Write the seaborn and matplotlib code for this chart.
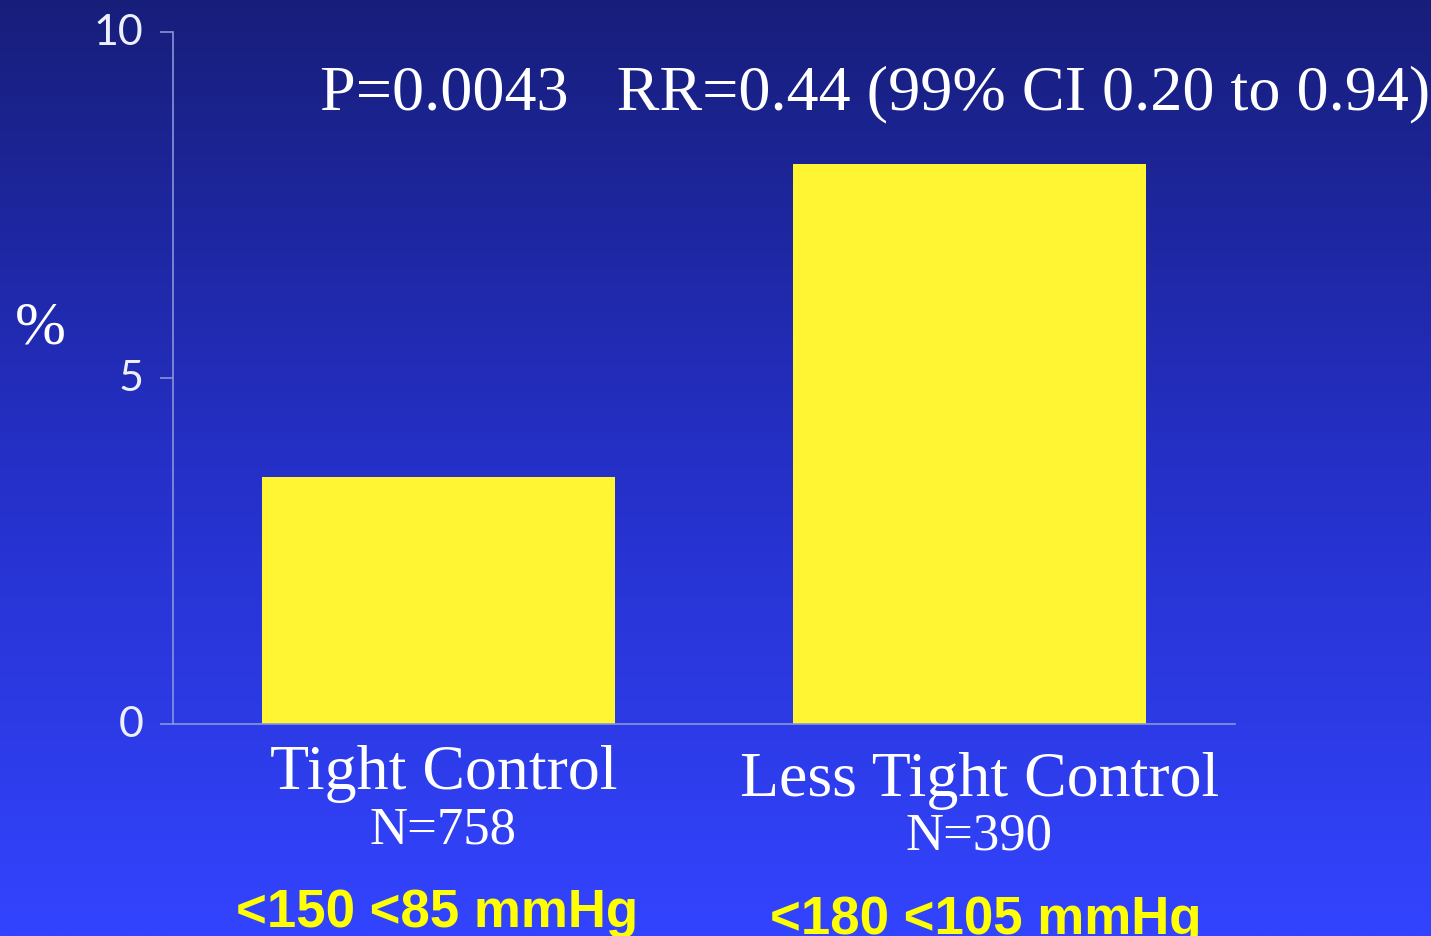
import numpy as np
import pandas as pd
import matplotlib
matplotlib.use("Agg")
import matplotlib.pyplot as plt
import matplotlib.transforms as mtransforms
from matplotlib.colors import LinearSegmentedColormap
import seaborn as sns

# ---- data ----
categories = ["Tight Control", "Less Tight Control"]
values = [3.57, 8.09]
n_labels = ["N=758", "N=390"]
bp_labels = ["<150 <85 mmHg", "<180 <105 mmHg"]
yticks = [0, 5, 10]
annotation = "P=0.0043   RR=0.44 (99% CI 0.20 to 0.94)"
ylabel = "%"

sns.set_theme(style="white")
plt.rcParams["font.family"] = ["DejaVu Sans"]

W, H = 1431, 937
fig = plt.figure(figsize=(W / 100, H / 100), dpi=100)

# gradient background
bg = fig.add_axes([0, 0, 1, 1], zorder=-10)
grad = np.linspace(0, 1, 512).reshape(-1, 1)
cmap = LinearSegmentedColormap.from_list("bg", ["#171e7a", "#2530c8", "#3344ff"])
bg.imshow(grad, aspect="auto", cmap=cmap, extent=[0, 1, 0, 1], origin="upper")
bg.axis("off")

ax = fig.add_axes([173 / W, 1 - 725 / H, (1235 - 173) / W, (725 - 33) / H])
ax.patch.set_alpha(0)

df = pd.DataFrame({"group": categories, "value": values})
sns.barplot(data=df, x="group", y="value", color="#fff533", saturation=1,
            width=0.664, linewidth=0, ax=ax)

ax.set_xlim(-0.5, 1.5)
ax.set_ylim(0, 10)
ax.set_yticks(yticks)
ax.set_yticklabels([str(t) for t in yticks], fontsize=31, color="#eef0ff",
                   family="Lato")
ax.tick_params(axis="y", left=True, length=9.5, width=1.2, color="#8a93d8", pad=12)
for lbl in ax.get_yticklabels():
    lbl.set_verticalalignment("center")
ax.tick_params(axis="x", bottom=False, labelbottom=False)
ax.set_xlabel("")
ax.set_ylabel("")
for s in ["top", "right"]:
    ax.spines[s].set_visible(False)
for s in ["left", "bottom"]:
    ax.spines[s].set_color("#8a93d8")
    ax.spines[s].set_linewidth(1.2)

trans = mtransforms.blended_transform_factory(ax.transData, fig.transFigure)
serif = ["Liberation Serif", "DejaVu Serif"]
name_base = [789, 796]
n_base = [844, 850]
bp_base = [927, 934]
dx = [0.01, 0.02]
bp_dx = [-0.002, 0.03]
for i, (c, n, b) in enumerate(zip(categories, n_labels, bp_labels)):
    ax.text(i + dx[i], 1 - name_base[i] / H, c, transform=trans, ha="center",
            va="baseline", fontsize=46, color="white", family=serif)
    ax.text(i + dx[i] - 0.002, 1 - n_base[i] / H, n, transform=trans, ha="center",
            va="baseline", fontsize=38, color="white", family=serif)
    ax.text(i + bp_dx[i], 1 - bp_base[i] / H, b, transform=trans, ha="center",
            va="baseline", fontsize=38, color="#ffff00", fontweight="bold",
            family=["Liberation Sans", "DejaVu Sans"])

fig.text(320 / W, 1 - 109 / H, annotation, ha="left", va="baseline",
         fontsize=46.2, color="white", family=serif)
fig.text(40 / W, 1 - 343 / H, ylabel, ha="center", va="baseline",
         fontsize=44, color="white", family=serif)

fig.savefig("out.png", dpi=100)
